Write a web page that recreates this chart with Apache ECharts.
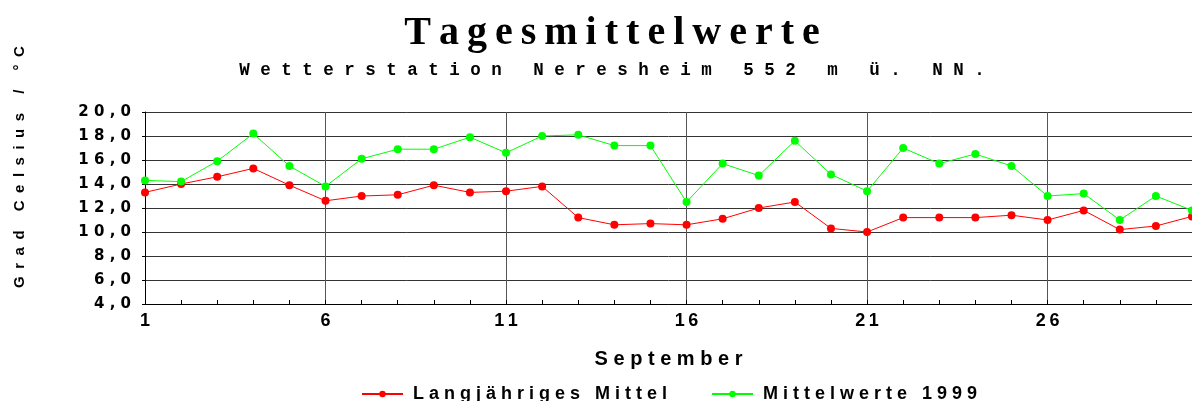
<!DOCTYPE html>
<html>
<head>
<meta charset="utf-8">
<script src="https://cdn.jsdelivr.net/npm/echarts@6/dist/echarts.min.js"></script>
<style>
  html, body { margin: 0; padding: 0; background: #fff; }
  #main { width: 1192px; height: 401px; }
</style>
</head>
<body>
<div id="main"></div>
<script>
// Tage im September
const days = ['1','2','3','4','5','6','7','8','9','10','11','12','13','14','15',
  '16','17','18','19','20','21','22','23','24','25','26','27','28','29','30'];
// Langjähriges Mittel
const langjaehrig = [13.3, 14.0, 14.6, 15.3, 13.9, 12.6, 13.0, 13.1, 13.9, 13.3,
  13.4, 13.8, 11.2, 10.6, 10.7, 10.6, 11.1, 12.0, 12.5, 10.3,
  10.0, 11.2, 11.2, 11.2, 11.4, 11.0, 11.8, 10.2, 10.5, 11.3];
// Mittelwerte 1999
const mittel1999 = [14.3, 14.2, 15.9, 18.2, 15.5, 13.8, 16.1, 16.9, 16.9, 17.9,
  16.6, 18.0, 18.1, 17.2, 17.2, 12.5, 15.7, 14.7, 17.6, 14.8,
  13.4, 17.0, 15.7, 16.5, 15.5, 13.0, 13.2, 11.0, 13.0, 11.8];
const seriesNames = ['Langjähriges Mittel', 'Mittelwerte 1999'];

const EN = '\u2002';
const THIN = '\u2009';
// gesperrte Schrift wie im Original
function spaced(s, sp) {
  return s.split('').join(sp);
}

let myChart = echarts.init(document.getElementById('main'));
let option = {
  animation: false,
  backgroundColor: '#fff',
  textStyle: { fontFamily: 'Liberation Sans', fontWeight: 'bold', color: '#000' },
  title: [
    {
      text: spaced('Tagesmittelwerte', THIN),
      left: 612, top: 14, padding: 0, textAlign: 'center',
      textStyle: { fontFamily: 'Liberation Serif', fontWeight: 'bold', fontSize: 40, color: '#000' }
    },
    {
      text: spaced('Wetterstation Neresheim 552 m ü. NN.', ' '),
      left: 612, top: 62, padding: 0, textAlign: 'center',
      textStyle: { fontFamily: 'Liberation Mono', fontWeight: 'bold', fontSize: 17.5, color: '#000' }
    }
  ],
  graphic: [
    {
      type: 'text',
      x: 20, y: 167,
      rotation: Math.PI / 2,
      style: {
        text: spaced('Grad Celsius / °C', EN),
        align: 'center', verticalAlign: 'middle',
        font: 'bold 15px "Liberation Sans"', fill: '#000'
      }
    }
  ],
  legend: {
    left: 356, top: 380,
    itemWidth: 41, itemHeight: 8, itemGap: 44,
    formatter: name => ' ' + spaced(name, ' '),
    textStyle: { fontFamily: 'Liberation Sans', fontWeight: 'bold', fontSize: 18, color: '#000' },
    data: seriesNames
  },
  grid: { left: 145, right: -4, top: 112, bottom: 97, containLabel: false },
  xAxis: {
    type: 'category',
    data: days,
    boundaryGap: false,
    name: spaced('September', ' '),
    nameLocation: 'middle',
    nameGap: 45,
    nameTextStyle: { fontFamily: 'Liberation Sans', fontWeight: 'bold', fontSize: 20, color: '#000' },
    axisLine: { lineStyle: { color: '#000', width: 1 } },
    axisTick: { interval: 0, inside: true, length: 4, lineStyle: { color: '#000' } },
    axisLabel: {
      interval: 4, margin: 8,
      fontFamily: 'Liberation Sans', fontWeight: 'bold', fontSize: 18, color: '#000',
      formatter: v => spaced(v, THIN)
    },
    splitLine: { show: true, interval: 4, lineStyle: { color: '#555', width: 1 } }
  },
  yAxis: {
    type: 'value',
    min: 4, max: 20, interval: 2,
    axisLine: { show: true, lineStyle: { color: '#000', width: 1 } },
    axisTick: { show: true, length: 3, lineStyle: { color: '#000' } },
    axisLabel: {
      margin: 14,
      fontFamily: 'DejaVu Sans', fontWeight: 'bold', fontSize: 15, color: '#000',
      formatter: v => spaced(v.toFixed(1).replace('.', ','), ' ')
    },
    splitLine: { show: true, lineStyle: { color: '#333', width: 1 } }
  },
  series: [
    {
      name: seriesNames[0],
      type: 'line',
      data: langjaehrig,
      symbol: 'circle',
      symbolSize: 8,
      color: '#ff0000',
      lineStyle: { width: 1, color: '#ff0000' },
      itemStyle: { color: '#ff0000' }
    },
    {
      name: seriesNames[1],
      type: 'line',
      data: mittel1999,
      symbol: 'circle',
      symbolSize: 8,
      color: '#00ff00',
      lineStyle: { width: 1, color: '#00ff00' },
      itemStyle: { color: '#00ff00' }
    }
  ]
};
myChart.setOption(option);
</script>
</body>
</html>
